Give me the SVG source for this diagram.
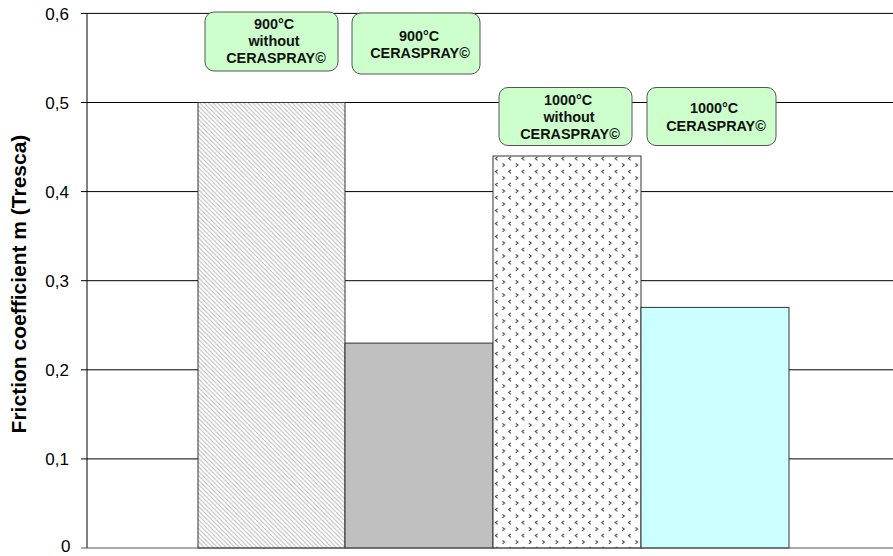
<svg xmlns="http://www.w3.org/2000/svg" width="893" height="556" viewBox="0 0 893 556">
  <style>
    .grid { stroke: #000; stroke-width: 1; }
    .tick { stroke: #000; stroke-width: 1; }
    .ylab { font-family: "Liberation Sans", Arial, sans-serif; font-size: 17px; fill: #000; text-anchor: end; }
    .title { font-family: "Liberation Sans", Arial, sans-serif; font-size: 21px; font-weight: bold; fill: #000; text-anchor: middle; }
    .bar { stroke: #333; stroke-width: 1; }
    .box { fill: #ccffcc; stroke: #555; stroke-width: 1; }
    .btxt { font-family: "Liberation Sans", Arial, sans-serif; font-size: 14.4px; font-weight: bold; fill: #111; text-anchor: middle; }
  </style>
  <defs>
    <pattern id="hatch" patternUnits="userSpaceOnUse" width="4.4" height="4.4">
      <rect width="4.4" height="4.4" fill="#fff"/>
      <path d="M-1,-1 L5.4,5.4 M-1,3.4 L1,5.4 M3.4,-1 L5.4,1" stroke="#b4b4b4" stroke-width="0.9"/>
    </pattern>
    <pattern id="chev" patternUnits="userSpaceOnUse" x="493" y="156" width="13.3" height="13">
      <rect width="13.3" height="13" fill="#fff"/>
      <path d="M4.6,0.8 L2.4,2.6 L4.6,4.4" fill="none" stroke="#333" stroke-width="1"/>
      <path d="M9.4,7.3 L11.6,9.1 L9.4,10.9" fill="none" stroke="#333" stroke-width="1"/>
    </pattern>
  </defs>
  <rect width="893" height="556" fill="#fff"/>

  <g id="grid">
    <line class="grid" x1="87" y1="13.4" x2="893" y2="13.4" stroke="#999"/>
    <line class="grid" x1="87" y1="102.5" x2="893" y2="102.5"/>
    <line class="grid" x1="87" y1="191.6" x2="893" y2="191.6"/>
    <line class="grid" x1="87" y1="280.7" x2="893" y2="280.7"/>
    <line class="grid" x1="87" y1="369.8" x2="893" y2="369.8"/>
    <line class="grid" x1="87" y1="458.9" x2="893" y2="458.9"/>
  </g>

  <g id="bars">
    <g id="bar-900-without"><rect class="bar" x="198" y="102.5" width="147" height="445.5" fill="url(#hatch)"/></g>
    <g id="bar-900-cera"><rect class="bar" x="345" y="343.1" width="148" height="204.9" fill="#c0c0c0"/></g>
    <g id="bar-1000-without"><rect class="bar" x="493" y="156" width="148" height="392" fill="url(#chev)"/></g>
    <g id="bar-1000-cera"><rect class="bar" x="641" y="307.4" width="148" height="240.6" fill="#ccffff"/></g>
  </g>

  <g id="axes">
    <line x1="87" y1="13.4" x2="87" y2="548" stroke="#000" stroke-width="1"/>
    <line x1="81" y1="548" x2="893" y2="548" stroke="#555" stroke-width="1"/>
    <line class="tick" x1="81" y1="13.4" x2="87" y2="13.4"/>
    <line class="tick" x1="81" y1="102.5" x2="87" y2="102.5"/>
    <line class="tick" x1="81" y1="191.6" x2="87" y2="191.6"/>
    <line class="tick" x1="81" y1="280.7" x2="87" y2="280.7"/>
    <line class="tick" x1="81" y1="369.8" x2="87" y2="369.8"/>
    <line class="tick" x1="81" y1="458.9" x2="87" y2="458.9"/>
    <text class="ylab" x="69" y="19.5">0,6</text>
    <text class="ylab" x="69" y="108.5">0,5</text>
    <text class="ylab" x="69" y="197.5">0,4</text>
    <text class="ylab" x="69" y="286.5">0,3</text>
    <text class="ylab" x="69" y="375.5">0,2</text>
    <text class="ylab" x="69" y="464.5">0,1</text>
    <text class="ylab" x="70.5" y="551.5">0</text>
    <text class="title" transform="translate(26,284) rotate(-90)">Friction coefficient m (Tresca)</text>
  </g>

  <g id="label-900-without">
    <rect class="box" x="205" y="12" width="133" height="59" rx="9"/>
    <text class="btxt" x="274" y="29">900°C</text>
    <text class="btxt" x="274" y="46">without</text>
    <text class="btxt" x="276" y="63">CERASPRAY©</text>
  </g>
  <g id="label-900-cera">
    <rect class="box" x="352" y="13" width="128" height="61" rx="9"/>
    <text class="btxt" x="419" y="41">900°C</text>
    <text class="btxt" x="420" y="58">CERASPRAY©</text>
  </g>
  <g id="label-1000-without">
    <rect class="box" x="499" y="87.5" width="133" height="58" rx="9"/>
    <text class="btxt" x="568" y="104.5">1000°C</text>
    <text class="btxt" x="569" y="121.5">without</text>
    <text class="btxt" x="570" y="138.5">CERASPRAY©</text>
  </g>
  <g id="label-1000-cera">
    <rect class="box" x="647" y="87.5" width="129" height="58" rx="9"/>
    <text class="btxt" x="714" y="113">1000°C</text>
    <text class="btxt" x="716" y="130.5">CERASPRAY©</text>
  </g>
</svg>
